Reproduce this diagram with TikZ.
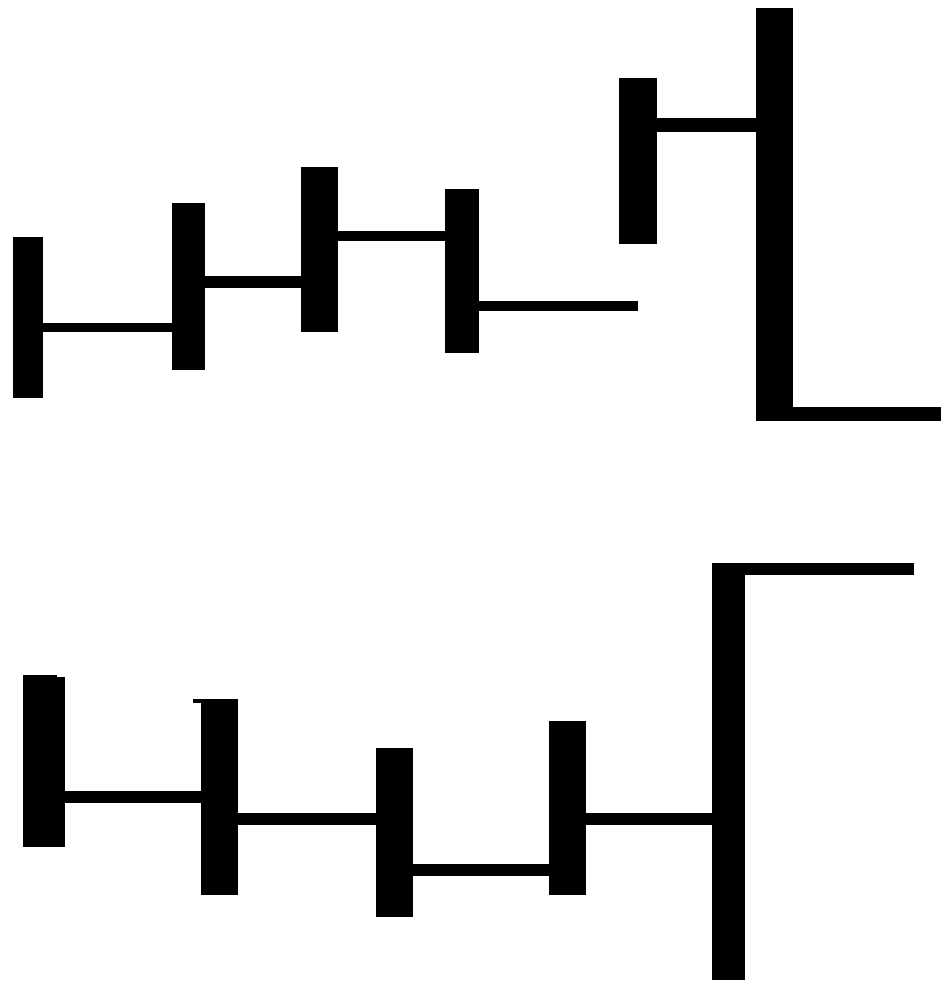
\documentclass[tikz,border=0pt]{standalone}
\begin{document}
\begin{tikzpicture}[x=0.5pt,y=-0.5pt, bar/.style={fill=black}]
\useasboundingbox[fill=white] (0,0) rectangle (941,982);
% top group
\fill[bar] (13,237) rectangle (43,398);
\fill[bar] (43,323) rectangle (172,332);
\fill[bar] (172,203) rectangle (205,370);
\fill[bar] (205,276) rectangle (301,288);
\fill[bar] (301,167) rectangle (338,332);
\fill[bar] (338,231) rectangle (445,241);
\fill[bar] (445,189) rectangle (479,353);
\fill[bar] (479,301) rectangle (638,311);
\fill[bar] (619,78) rectangle (657,244);
\fill[bar] (657,118) rectangle (756,132);
\fill[bar] (756,8) rectangle (793,421);
\fill[bar] (793,407) rectangle (941,421);
% bottom group
\fill[bar] (23,675) rectangle (57,847);
\fill[bar] (23,677) rectangle (65,847);
\fill[bar] (65,791) rectangle (201,803);
\fill[bar] (201,699) rectangle (238,895);
\fill[bar] (193,699) rectangle (201,703);
\fill[bar] (238,813) rectangle (376,825);
\fill[bar] (376,748) rectangle (413,917);
\fill[bar] (413,864) rectangle (549,876);
\fill[bar] (549,721) rectangle (586,895);
\fill[bar] (586,813) rectangle (712,825);
\fill[bar] (712,563) rectangle (745,980);
\fill[bar] (745,563) rectangle (914,575);
\end{tikzpicture}
\end{document}
